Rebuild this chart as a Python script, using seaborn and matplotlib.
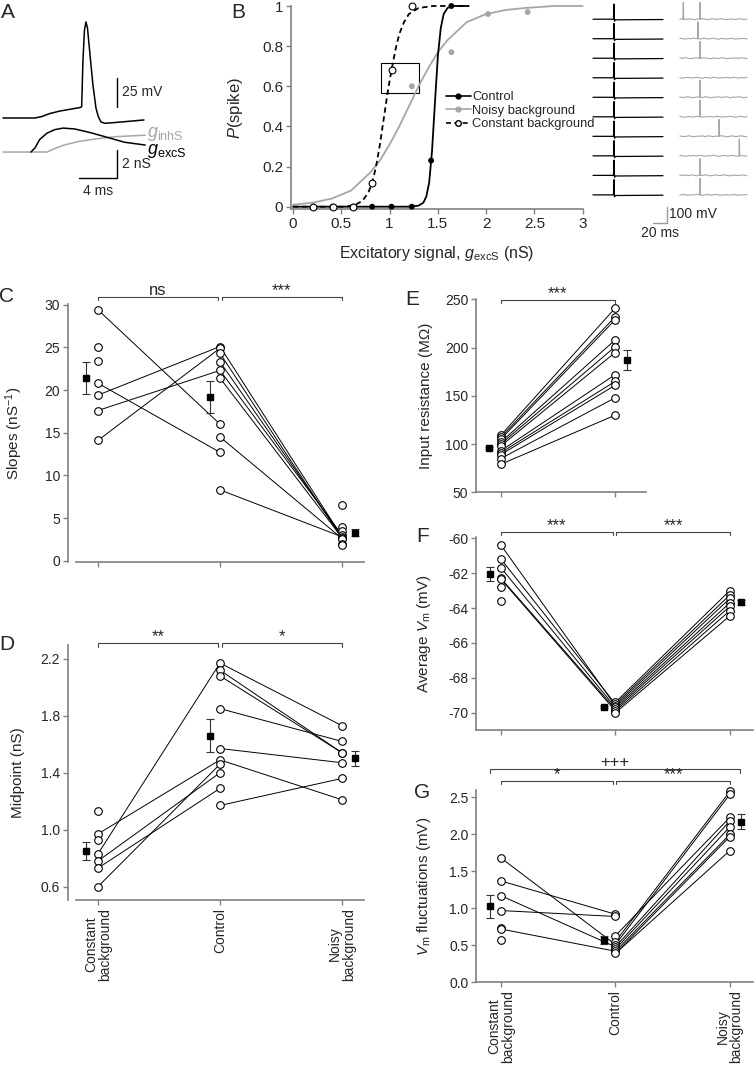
import pandas as pd
import matplotlib
matplotlib.use("Agg")
import matplotlib.pyplot as plt
from matplotlib.lines import Line2D
from matplotlib.patches import Rectangle
import seaborn as sns

sns.set_style("ticks")
plt.rcParams['font.family'] = ['Liberation Sans', 'DejaVu Sans']
plt.rcParams['axes.unicode_minus'] = False
plt.rcParams['mathtext.fontset'] = 'custom'
plt.rcParams['mathtext.rm'] = 'Liberation Sans'
plt.rcParams['mathtext.it'] = 'Liberation Sans:italic'

# ---------------- data ----------------
# A: example voltage response (ms, mV) and synaptic conductances (ms, nS)
a_t_vm = [0, 3.4, 4.14, 4.99, 6.05, 7.32, 8.17, 8.35, 8.49, 8.65, 8.81, 8.97, 9.24,
          9.55, 9.87, 10.12, 10.4, 10.83, 11.9, 14.97]
a_vm = [-65, -65, -63.7, -61.1, -59, -57.2, -56, -55.3, -15, 10.9, 17.8, 12.6, -10.7,
        -36.6, -56.4, -63.9, -68.4, -69.6, -68.9, -66.7]
a_t_exc = [2.97, 3.4, 3.9, 4.67, 5.5, 6.37, 7.6, 9.2, 10.8, 12.9, 15.1]
a_g_exc = [0, 0.3, 0.9, 1.35, 1.6, 1.71, 1.65, 1.4, 1.1, 0.7, 0.5]
a_t_inh = [0, 4.67, 5.5, 6.5, 8.0, 10.0, 12.0, 15.1]
a_g_inh = [0, 0, 0.25, 0.5, 0.75, 0.95, 1.1, 1.2]

# B: spike probability vs excitatory signal
b_x_control = [0.21, 0.41, 0.62, 0.82, 1.02, 1.23, 1.43, 1.64]
b_p_control = [0, 0, 0, 0, 0, 0, 0.23, 1.0]
b_x_constant = [0.21, 0.41, 0.62, 0.82, 1.02, 1.23]
b_p_constant = [0, 0, 0, 0.12, 0.68, 1.0]
b_x_noisy = [1.23, 1.64, 2.02, 2.43]
b_p_noisy = [0.6, 0.77, 0.96, 0.97]
fit_x_control = [0, 1.2, 1.3, 1.35, 1.38, 1.41, 1.44, 1.47, 1.5, 1.53, 1.56, 1.6, 1.65, 1.82]
fit_y_control = [0, 0, 0.005, 0.02, 0.05, 0.12, 0.28, 0.52, 0.75, 0.89, 0.96, 0.99, 1.0, 1.0]
fit_x_constant = [0, 0.55, 0.65, 0.72, 0.78, 0.82, 0.86, 0.9, 0.94, 0.98, 1.02, 1.06, 1.1,
                  1.15, 1.2, 1.3, 1.45, 1.82]
fit_y_constant = [0, 0, 0.01, 0.03, 0.07, 0.12, 0.2, 0.31, 0.44, 0.57, 0.68, 0.78, 0.86,
                  0.92, 0.96, 0.99, 1.0, 1.0]
fit_x_noisy = [0, 0.2, 0.4, 0.6, 0.8, 0.9, 1.0, 1.1, 1.2, 1.3, 1.4, 1.5, 1.6, 1.8, 2.0,
               2.2, 2.4, 2.7, 3.0]
fit_y_noisy = [0.01, 0.02, 0.04, 0.08, 0.17, 0.23, 0.31, 0.4, 0.5, 0.6, 0.69, 0.77, 0.83,
               0.92, 0.96, 0.98, 0.99, 1.0, 1.0]

# B traces: spike times (ms) in each of 10 trials
black_spikes = [[30], [30], [30], [30], [30], [30], [30], [30], [30], [30]]
gray_spikes = [[5, 29], [26], [29], [], [29], [29], [56], [85], [29], [29]]
black_wave_dt = [-0.7, 0, 0.7, 2.0]
black_wave_dv = [0, 95, -12, -4]
gray_wave_dt = [-0.6, 0, 0.6]
gray_wave_dv = [0, 105, 0]
# background membrane fluctuation (mV, every 4 ms)
gray_noise = [0, 3, -2, 3, 1, -3, 2, -1, 4, 0, -3, 1, 3, -2, 1, 3, -1, -3, 2, 0,
              -2, 3, 1, -3, 1]

cond_labels = ['Constant\nbackground', 'Control', 'Noisy\nbackground']

# C: slopes (nS^-1)
C_const = [29.4, 25.0, 23.4, 20.8, 19.4, 17.6, 14.1]
C_ctrl = [25.1, 24.9, 24.3, 23.3, 22.3, 21.4, 16.0, 14.5, 12.7, 8.3]
C_noisy = [6.5, 3.9, 3.5, 3.0, 2.8, 2.7, 2.6, 2.0, 1.8]
C_links_a = [(29.4, 16.0), (20.8, 12.7), (19.4, 25.1), (17.6, 22.3), (14.1, 24.9)]
C_links_b = [(25.1, 2.8), (24.3, 2.6), (23.3, 2.8), (22.3, 3.0), (21.4, 2.7), (14.5, 2.6), (8.3, 2.8)]
C_mean = [21.4, 19.2, 3.3]
C_sem = [1.9, 1.9, 0.45]

# D: midpoint (nS)
D_const = [1.13, 0.97, 0.93, 0.83, 0.78, 0.73, 0.60]
D_ctrl = [2.17, 2.12, 2.08, 1.85, 1.57, 1.49, 1.46, 1.40, 1.29, 1.17]
D_noisy = [1.73, 1.62, 1.54, 1.54, 1.47, 1.36, 1.21]
D_links_a = [(0.97, 1.49), (0.83, 2.17), (0.78, 1.40), (0.73, 1.29), (0.60, 1.46)]
D_links_b = [(2.17, 1.73), (2.12, 1.54), (2.08, 1.54), (1.85, 1.62), (1.57, 1.47), (1.49, 1.21), (1.17, 1.36)]
D_mean = [0.85, 1.66, 1.50]
D_sem = [0.065, 0.115, 0.056]

# E: input resistance (MOhm)
E_const = [109, 107, 105, 102, 100, 98, 93, 91, 89, 85, 79]
E_ctrl = [241, 232, 229, 208, 201, 195, 172, 165, 161, 148, 130]
E_links = [(109, 241), (107, 232), (105, 229), (102, 208), (100, 201), (98, 195),
           (93, 172), (91, 165), (89, 161), (85, 148), (79, 130)]
E_mean = [96, 187]
E_sem = [1.5, 10.4]

# F: average Vm (mV)
F_const = [-60.4, -61.2, -61.7, -62.3, -62.35, -62.8, -63.6]
F_ctrl = [-69.4, -69.5, -69.6, -69.7, -69.8, -69.9, -70.0]
F_noisy = [-63.0, -63.25, -63.45, -63.7, -63.9, -64.15, -64.45]
F_links_a = [(-60.4, -69.6), (-61.2, -69.5), (-61.7, -69.7), (-62.3, -69.8), (-62.35, -69.9)]
F_links_b = [(-69.4, -63.0), (-69.5, -63.25), (-69.6, -63.45), (-69.7, -63.7),
             (-69.8, -63.9), (-69.9, -64.15), (-70.0, -64.45)]
F_mean = [-62.05, -69.65, -63.68]
F_sem = [0.4, 0.06, 0.15]

# G: Vm fluctuations (mV)
G_const = [1.68, 1.37, 1.17, 0.97, 0.74, 0.72, 0.57]
G_ctrl = [0.92, 0.89, 0.63, 0.55, 0.51, 0.48, 0.45, 0.42, 0.39]
G_noisy = [2.58, 2.54, 2.23, 2.18, 2.10, 2.00, 1.97, 1.78]
G_links_a = [(1.68, 0.51), (1.37, 0.92), (1.17, 0.48), (0.97, 0.89), (0.72, 0.42)]
G_links_b = [(0.63, 2.23), (0.55, 2.58), (0.51, 2.54), (0.48, 2.18), (0.45, 2.10),
             (0.42, 2.00), (0.39, 1.97), (0.39, 1.78)]
G_mean = [1.03, 0.57, 2.17]
G_sem = [0.155, 0.05, 0.1]

# ---------------- layout helpers ----------------
W, H = 754, 1066
SPINE = '#808080'
GRAY = '#a6a6a6'
fig = plt.figure(figsize=(W / 100, H / 100), dpi=100)


def px_axes(x0, y0, x1, y1):
    return fig.add_axes([x0 / W, 1 - y1 / H, (x1 - x0) / W, (y1 - y0) / H])


def ftext(x, y, s, **kw):
    fig.text(x / W, 1 - y / H, s, **kw)


def paired(ax, groups, links, means, sems, mean_x):
    segs = []
    for i, j, pairs in links:
        for a, b in pairs:
            n = len(segs) // 2
            segs += [(i, a, n), (j, b, n)]
    seg = pd.DataFrame(segs, columns=['x', 'y', 'seg'])
    sns.lineplot(data=seg, x='x', y='y', units='seg', estimator=None, sort=False,
                 color='k', lw=0.7, ax=ax)
    pts = pd.DataFrame([(i, v) for i, g in enumerate(groups) for v in g], columns=['x', 'y'])
    sns.scatterplot(data=pts, x='x', y='y', color='white', edgecolor='k', s=30,
                    linewidth=0.8, zorder=3, clip_on=False, ax=ax)
    ax.errorbar(mean_x, means, yerr=sems, fmt='s', ms=4.5, color='k', ecolor='#333333',
                elinewidth=0.8, capsize=2.8, capthick=0.8, zorder=4, clip_on=False)


def style(ax, xlim, ylim, yticks, yfmt, ylabel, label_x, ncat, xlabels=False, offset=0):
    ax.set_xlim(*xlim)
    ax.set_ylim(*ylim)
    ax.set_yticks(yticks)
    ax.set_yticklabels([yfmt.format(v) for v in yticks])
    ax.set_xticks(range(ncat))
    if xlabels:
        ax.set_xticklabels(cond_labels[:ncat], rotation=90, va='top', ha='center',
                           linespacing=0.95, fontsize=11)
    else:
        ax.set_xticklabels([])
    ax.set_xlabel('')
    ax.set_ylabel(ylabel, fontsize=11)
    ax.yaxis.set_label_coords(label_x, 0.5)
    for s in ['top', 'right']:
        ax.spines[s].set_visible(False)
    for s in ['left', 'bottom']:
        ax.spines[s].set_color(SPINE)
        ax.spines[s].set_linewidth(1.2)
    if offset:
        ax.spines['left'].set_position(('outward', offset))
    ax.tick_params(color=SPINE, length=3.5, width=1, labelsize=10, pad=2)


def bracket(ax, x0, x1, dy, text, tick=3.4):
    h = ax.get_position().height * H
    tr = ax.get_xaxis_transform()
    y = 1 + dy / h
    y2 = y - tick / h
    ax.plot([x0, x0, x1, x1], [y2, y, y, y2], color='#444444', lw=0.8,
            transform=tr, clip_on=False)
    ax.text((x0 + x1) / 2, y - 1 / h, text, transform=tr, ha='center', va='bottom',
            fontsize=12)


# ---------------- A ----------------
ax_av = px_axes(0, 15, 160, 195)
ax_ag = px_axes(0, 15, 160, 195)
for ax in (ax_av, ax_ag):
    ax.set_xlim(-0.32, 16.67)
    ax.axis('off')
ax_av.set_ylim(-131.4, 23.8)
ax_ag.set_ylim(-3.07, 9.79)
sns.lineplot(x=a_t_vm, y=a_vm, estimator=None, sort=False, color='k', lw=1.1, ax=ax_av)
sns.lineplot(x=a_t_inh, y=a_g_inh, estimator=None, sort=False, color=GRAY, lw=1.1, ax=ax_ag)
sns.lineplot(x=a_t_exc, y=a_g_exc, estimator=None, sort=False, color='k', lw=1.1, ax=ax_ag)
ax_av.plot([12.1, 12.1], [-55.5, -30.5], color='k', lw=1)
ax_av.text(12.6, -43, '25 mV', ha='left', va='center', fontsize=10)
ax_ag.plot([8.1, 12.1, 12.1], [-1.86, -1.86, 0.14], color='k', lw=1)
ax_ag.text(12.6, -0.86, '2 nS', ha='left', va='center', fontsize=10)
ax_ag.text(10.1, -2.8, '4 ms', ha='center', va='center', fontsize=10)
ax_ag.text(15.3, 1.3, r'$g_{\mathrm{inhS}}$', color=GRAY, ha='left', va='center', fontsize=13)
ax_ag.text(15.3, 0.05, r'$g_{\mathrm{excS}}$', color='k', ha='left', va='center', fontsize=13)

# ---------------- B ----------------
ax_b = px_axes(290.7, 6, 582.7, 209.3)
sns.lineplot(x=fit_x_noisy, y=fit_y_noisy, estimator=None, color=GRAY, lw=1.3, ax=ax_b, clip_on=False)
sns.lineplot(x=fit_x_control, y=fit_y_control, estimator=None, color='k', lw=1.3, ax=ax_b, clip_on=False)
sns.lineplot(x=fit_x_constant, y=fit_y_constant, estimator=None, color='k', lw=1.3,
             linestyle=(0, (3, 2)), ax=ax_b, clip_on=False)
sns.scatterplot(x=b_x_noisy, y=b_p_noisy, color=GRAY, edgecolor='none', s=18, ax=ax_b,
                zorder=3, clip_on=False)
sns.scatterplot(x=b_x_control, y=b_p_control, color='k', edgecolor='none', s=18, ax=ax_b,
                zorder=3, clip_on=False)
sns.scatterplot(x=b_x_constant, y=b_p_constant, color='white', edgecolor='k', linewidth=0.8,
                s=24, ax=ax_b, zorder=4, clip_on=False)
ax_b.add_patch(Rectangle((0.91, 0.565), 0.39, 0.15, fill=False, ec='k', lw=0.8))
ax_b.set_xlim(-0.024, 3.0)
ax_b.set_ylim(-0.013, 1.0)
ax_b.set_xticks([0, 0.5, 1, 1.5, 2, 2.5, 3])
ax_b.set_xticklabels(['0', '0.5', '1', '1.5', '2', '2.5', '3'])
ax_b.set_yticks([0, 0.2, 0.4, 0.6, 0.8, 1.0])
ax_b.set_yticklabels(['0', '0.2', '0.4', '0.6', '0.8', '1'])
ax_b.set_xlabel(r'Excitatory signal, $g_{\mathrm{excS}}$ (nS)', fontsize=11.5)
ax_b.set_ylabel(r'$P$(spike)', fontsize=12)
ax_b.yaxis.set_label_coords(-0.156, 0.5)
ax_b.xaxis.set_label_coords(0.5, -0.17)
for s in ['top', 'right']:
    ax_b.spines[s].set_visible(False)
for s in ['left', 'bottom']:
    ax_b.spines[s].set_color(SPINE)
    ax_b.spines[s].set_linewidth(1.2)
ax_b.tick_params(color=SPINE, length=3.5, width=1, labelsize=11, pad=2)
handles = [Line2D([], [], color='k', lw=1.2, marker='o', ms=3.5),
           Line2D([], [], color=GRAY, lw=1.2, marker='o', ms=3.5),
           Line2D([], [], color='k', lw=1.2, ls=(0, (3, 2)), marker='o', ms=4, mfc='white')]
ax_b.legend(handles, ['Control', 'Noisy background', 'Constant background'],
            loc='upper left', bbox_to_anchor=(446 / W, 1 - 91 / H), bbox_transform=fig.transFigure,
            frameon=False, handlelength=1.9, handletextpad=0.15, labelspacing=0.12,
            fontsize=9.3, borderaxespad=0, borderpad=0)

# B traces
ax_t = px_axes(585, 0, 754, 240)
ax_t.set_xlim(-11.4, 230)
ax_t.set_ylim(0, 1500)
ax_t.axis('off')
rows = []
for k in range(10):
    base = 1380 - 122 * k
    t = [0]
    v = [base]
    for s in black_spikes[k]:
        t += [s + d for d in black_wave_dt]
        v += [base + d for d in black_wave_dv]
    t.append(100)
    v.append(base - 2)
    rows += [('b%d' % k, a, b) for a, b in zip(t, v)]
    # gray trace: background fluctuation plus spikes
    shift = (3 * k) % len(gray_noise)
    noise = gray_noise[shift:] + gray_noise[:shift]
    pts = [(124 + 4 * i, base + n) for i, n in enumerate(noise)]
    for s in gray_spikes[k]:
        pts += [(124 + s + d, base + d2) for d, d2 in zip(gray_wave_dt, gray_wave_dv)]
    pts.sort()
    rows += [('g%d' % k, a, b) for a, b in pts]
tr = pd.DataFrame(rows, columns=['trial', 't', 'v'])
sns.lineplot(data=tr[tr.trial.str.startswith('b')], x='t', y='v', units='trial',
             estimator=None, sort=False, color='k', lw=0.9, ax=ax_t)
sns.lineplot(data=tr[tr.trial.str.startswith('g')], x='t', y='v', units='trial',
             estimator=None, sort=False, color=GRAY, lw=0.8, ax=ax_t)
ax_t.plot([85.7, 105.7, 105.7], [106, 106, 206], color='#999999', lw=1)
ax_t.text(108, 162, '100 mV', ha='left', va='center', fontsize=10)
ax_t.text(95.7, 44, '20 ms', ha='center', va='center', fontsize=10)

# ---------------- C ----------------
ax_c = px_axes(76, 304, 364, 562)
paired(ax_c, [C_const, C_ctrl, C_noisy], [(0, 1, C_links_a), (1, 2, C_links_b)],
       C_mean, C_sem, [-0.1, 0.92, 2.11])
style(ax_c, (-0.18, 2.18), (-0.15, 30.08), [0, 5, 10, 15, 20, 25, 30], '{:g}',
      r'Slopes (nS$^{\mathrm{-1}}$)', -0.177, 3, offset=6)
bracket(ax_c, 0, 0.985, 7.3, 'ns')
bracket(ax_c, 1.015, 2, 7.3, '***')

# ---------------- D ----------------
ax_d = px_axes(76, 645, 364, 900)
paired(ax_d, [D_const, D_ctrl, D_noisy], [(0, 1, D_links_a), (1, 2, D_links_b)],
       D_mean, D_sem, [-0.1, 0.92, 2.11])
style(ax_d, (-0.18, 2.18), (0.506, 2.297), [0.6, 1.0, 1.4, 1.8, 2.2], '{:.1f}',
      'Midpoint (nS)', -0.177, 3, xlabels=True, offset=6)
bracket(ax_d, 0, 0.985, 1.7, '**')
bracket(ax_d, 1.015, 2, 1.7, '*')

# ---------------- E ----------------
ax_e = px_axes(476, 299, 646, 492.3)
paired(ax_e, [E_const, E_ctrl], [(0, 1, E_links)], E_mean, E_sem, [-0.1, 1.1])
style(ax_e, (-0.216, 1.27), (50, 250.5), [50, 100, 150, 200, 250], '{:g}',
      'Input resistance (M\u03a9)', -0.253, 2)
bracket(ax_e, 0, 1, -1, '***')

# ---------------- F ----------------
ax_f = px_axes(476, 536.7, 752.7, 730)
paired(ax_f, [F_const, F_ctrl, F_noisy], [(0, 1, F_links_a), (1, 2, F_links_b)],
       F_mean, F_sem, [-0.1, 0.9, 2.1])
style(ax_f, (-0.219, 2.2), (-70.99, -59.91), [-70, -68, -66, -64, -62, -60], '{:g}',
      r'Average $V_{\mathrm{m}}$ (mV)', -0.155, 3)
bracket(ax_f, 0, 0.976, 5, '***')
bracket(ax_f, 1.007, 2, 5, '***')

# ---------------- G ----------------
ax_g = px_axes(476, 790, 752.7, 982.3)
paired(ax_g, [G_const, G_ctrl, G_noisy], [(0, 1, G_links_a), (1, 2, G_links_b)],
       G_mean, G_sem, [-0.1, 0.9, 2.1])
style(ax_g, (-0.219, 2.2), (0, 2.6), [0, 0.5, 1.0, 1.5, 2.0, 2.5], '{:.1f}',
      r'$V_{\mathrm{m}}$ fluctuations (mV)', -0.155, 3, xlabels=True)
bracket(ax_g, 0, 0.976, 9, '*')
bracket(ax_g, 1.007, 2, 9, '***')
bracket(ax_g, -0.1, 2.09, 20.7, '+++')

# panel letters
for letter, x, y in [('A', 8, 12), ('B', 238, 12), ('C', 7, 297), ('D', 7, 645),
                     ('E', 412, 300), ('F', 423, 537), ('G', 422, 792)]:
    ftext(x, y, letter, fontsize=15, ha='center', va='center')

fig.savefig('out.png', dpi=100)
